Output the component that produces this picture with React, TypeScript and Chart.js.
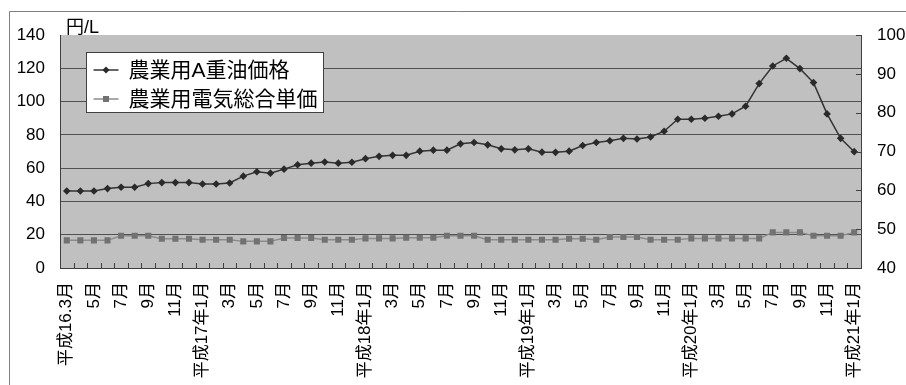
import React, { useEffect, useRef } from 'react';
import { Chart, registerables } from 'chart.js';

Chart.register(...registerables);

const categories: string[] = [
  '平成16.3月', '4月', '5月', '6月', '7月', '8月', '9月', '10月', '11月', '12月',
  '平成17年1月', '2月', '3月', '4月', '5月', '6月', '7月', '8月', '9月', '10月', '11月', '12月',
  '平成18年1月', '2月', '3月', '4月', '5月', '6月', '7月', '8月', '9月', '10月', '11月', '12月',
  '平成19年1月', '2月', '3月', '4月', '5月', '6月', '7月', '8月', '9月', '10月', '11月', '12月',
  '平成20年1月', '2月', '3月', '4月', '5月', '6月', '7月', '8月', '9月', '10月', '11月', '12月',
  '平成21年1月',
];

const heavyOilPrice: number[] = [
  46.3, 46.3, 46.3, 47.7, 48.5, 48.5, 50.7, 51.3, 51.3, 51.3,
  50.5, 50.5, 51.1, 55.2, 57.8, 57.0, 59.4, 62.0, 63.0, 63.7, 63.0, 63.5,
  65.7, 67.1, 67.7, 67.7, 70.2, 70.8, 70.8, 74.6, 75.4, 74.0, 71.6, 71.0,
  71.6, 69.6, 69.5, 70.2, 73.6, 75.4, 76.5, 77.9, 77.5, 78.7, 82.2, 89.4,
  89.4, 90.0, 91.2, 92.6, 97.2, 110.8, 121.4, 126.0, 119.8, 111.4, 92.6, 77.9,
  69.9,
];

const electricityPrice: number[] = [
  16.6, 16.6, 16.6, 16.6, 19.4, 19.4, 19.4, 17.6, 17.6, 17.6,
  17.0, 17.0, 17.0, 16.0, 16.0, 16.0, 18.0, 18.0, 18.0, 17.0, 17.0, 17.0,
  17.8, 17.8, 17.8, 18.2, 18.2, 18.2, 19.4, 19.4, 19.4, 17.0, 17.0, 17.0,
  17.0, 17.0, 17.0, 17.6, 17.6, 17.0, 18.6, 18.6, 18.6, 17.0, 17.0, 17.0,
  17.8, 17.8, 17.8, 17.8, 17.8, 17.8, 21.4, 21.4, 21.4, 19.4, 19.4, 19.4,
  21.4,
];

const seriesNames: string[] = ['農業用A重油価格', '農業用電気総合単価'];
const leftAxis = { min: 0, max: 140, step: 20 };
const rightAxis = { min: 40, max: 100, step: 10 };
const unitLabel = '円/L';

const FONT = '"Liberation Sans", "Noto Sans CJK JP", sans-serif';

const decorPlugin = {
  id: 'decor',
  beforeDraw(chart: any) {
    const { ctx, chartArea } = chart;
    const { left, top, right, bottom } = chartArea;
    ctx.save();
    ctx.fillStyle = '#ffffff';
    ctx.fillRect(0, 0, chart.width, chart.height);
    ctx.strokeStyle = '#808080';
    ctx.lineWidth = 1;
    ctx.beginPath();
    ctx.moveTo(9.5, chart.height);
    ctx.lineTo(9.5, 11.5);
    ctx.lineTo(chart.width, 11.5);
    ctx.stroke();
    ctx.fillStyle = '#c0c0c0';
    ctx.fillRect(left, top, right - left, bottom - top);
    ctx.restore();
  },
  afterDraw(chart: any) {
    const { ctx, chartArea } = chart;
    const { left, top, right, bottom } = chartArea;
    const y1 = chart.scales.y1;
    ctx.save();
    ctx.strokeStyle = '#404040';
    ctx.lineWidth = 1;
    const n = categories.length;
    const w = (right - left) / n;
    ctx.beginPath();
    for (let k = 1; k < n; k++) {
      const x = Math.round(left + k * w) + 0.5;
      ctx.moveTo(x, bottom);
      ctx.lineTo(x, bottom - 5);
    }
    y1.ticks.forEach((t: any) => {
      const y = Math.round(y1.getPixelForValue(t.value)) + 0.5;
      ctx.moveTo(right, y);
      ctx.lineTo(right - 5, y);
    });
    ctx.stroke();

    ctx.fillStyle = '#000';
    ctx.font = `18px ${FONT}`;
    ctx.textAlign = 'left';
    ctx.textBaseline = 'alphabetic';
    ctx.fillText(unitLabel, left + 6, top - 2);

    const bx = left + 26.5;
    const by = top + 17.5;
    const bw = 237;
    const bh = 60;
    ctx.fillStyle = '#ffffff';
    ctx.fillRect(bx, by, bw, bh);
    ctx.strokeStyle = '#404040';
    ctx.strokeRect(bx, by, bw, bh);
    chart.data.datasets.forEach((ds: any, i: number) => {
      const cy = by + 17.5 + i * 29;
      ctx.strokeStyle = ds.borderColor;
      ctx.lineWidth = 1.5;
      ctx.beginPath();
      ctx.moveTo(bx + 7, cy);
      ctx.lineTo(bx + 32, cy);
      ctx.stroke();
      const mx = bx + 19.5;
      ctx.fillStyle = ds.pointBackgroundColor;
      if (ds.pointStyle === 'rectRot') {
        const r = 3.5;
        ctx.beginPath();
        ctx.moveTo(mx, cy - r);
        ctx.lineTo(mx + r, cy);
        ctx.lineTo(mx, cy + r);
        ctx.lineTo(mx - r, cy);
        ctx.closePath();
        ctx.fill();
      } else {
        ctx.fillRect(mx - 3, cy - 3, 6, 6);
      }
      ctx.fillStyle = '#000';
      ctx.font = `21px ${FONT}`;
      ctx.textBaseline = 'middle';
      ctx.fillText(ds.label, bx + 42, cy + 1);
    });
    ctx.restore();
  },
};

export default function App() {
  const ref = useRef<HTMLCanvasElement | null>(null);
  useEffect(() => {
    if (!ref.current) return;
    const chart = new Chart(ref.current, {
      type: 'line',
      data: {
        labels: categories,
        datasets: [
          {
            label: seriesNames[0],
            data: heavyOilPrice,
            yAxisID: 'y',
            borderColor: '#333333',
            backgroundColor: '#2a2a2a',
            pointBackgroundColor: '#2a2a2a',
            pointBorderColor: '#2a2a2a',
            pointBorderWidth: 0,
            pointStyle: 'rectRot',
            pointRadius: 3.8,
            borderWidth: 1.5,
            tension: 0,
          },
          {
            label: seriesNames[1],
            data: electricityPrice,
            yAxisID: 'y',
            borderColor: '#8c8c8c',
            backgroundColor: '#727272',
            pointBackgroundColor: '#727272',
            pointBorderColor: '#727272',
            pointBorderWidth: 0,
            pointStyle: 'rect',
            pointRadius: 4.3,
            borderWidth: 1.5,
            tension: 0,
          },
        ],
      },
      options: {
        animation: false,
        responsive: false,
        layout: { padding: { top: 35, left: 0, right: 0, bottom: 0 } },
        plugins: {
          legend: { display: false },
          tooltip: { enabled: false },
          title: { display: false },
        },
        scales: {
          x: {
            type: 'category',
            offset: true,
            grid: { display: false, drawTicks: false },
            border: { display: true, color: '#404040', width: 1 },
            ticks: {
              autoSkip: false,
              maxRotation: 90,
              minRotation: 90,
              padding: 14,
              color: '#000',
              font: { size: 17, family: FONT },
              callback: (_v: any, i: number) => (i % 2 === 0 ? categories[i] : ''),
            },
            afterFit: (s: any) => {
              s.height = 117;
            },
          },
          y: {
            position: 'left',
            min: leftAxis.min,
            max: leftAxis.max,
            grid: {
              drawTicks: false,
              color: (c: any) =>
                c.tick && (c.tick.value === leftAxis.min || c.tick.value === leftAxis.max)
                  ? 'rgba(0,0,0,0)'
                  : '#505050',
              lineWidth: 1,
            },
            border: { display: true, color: '#404040', width: 1 },
            ticks: {
              stepSize: leftAxis.step,
              padding: 15,
              color: '#000',
              font: { size: 17, family: FONT },
            },
            afterFit: (s: any) => {
              s.width = 60;
            },
          },
          y1: {
            position: 'right',
            min: rightAxis.min,
            max: rightAxis.max,
            grid: { display: false, drawTicks: false },
            border: { display: true, color: '#404040', width: 1 },
            ticks: {
              stepSize: rightAxis.step,
              padding: 16,
              color: '#000',
              font: { size: 17, family: FONT },
            },
            afterFit: (s: any) => {
              s.width = 45;
            },
          },
        },
      } as any,
      plugins: [decorPlugin],
    });
    return () => chart.destroy();
  }, []);
  return (
    <div style={{ position: 'fixed', left: 0, top: 0, width: 906, height: 385, overflow: 'hidden' }}>
      <canvas ref={ref} width={906} height={385} style={{ display: 'block', width: 906, height: 385 }} />
    </div>
  );
}
